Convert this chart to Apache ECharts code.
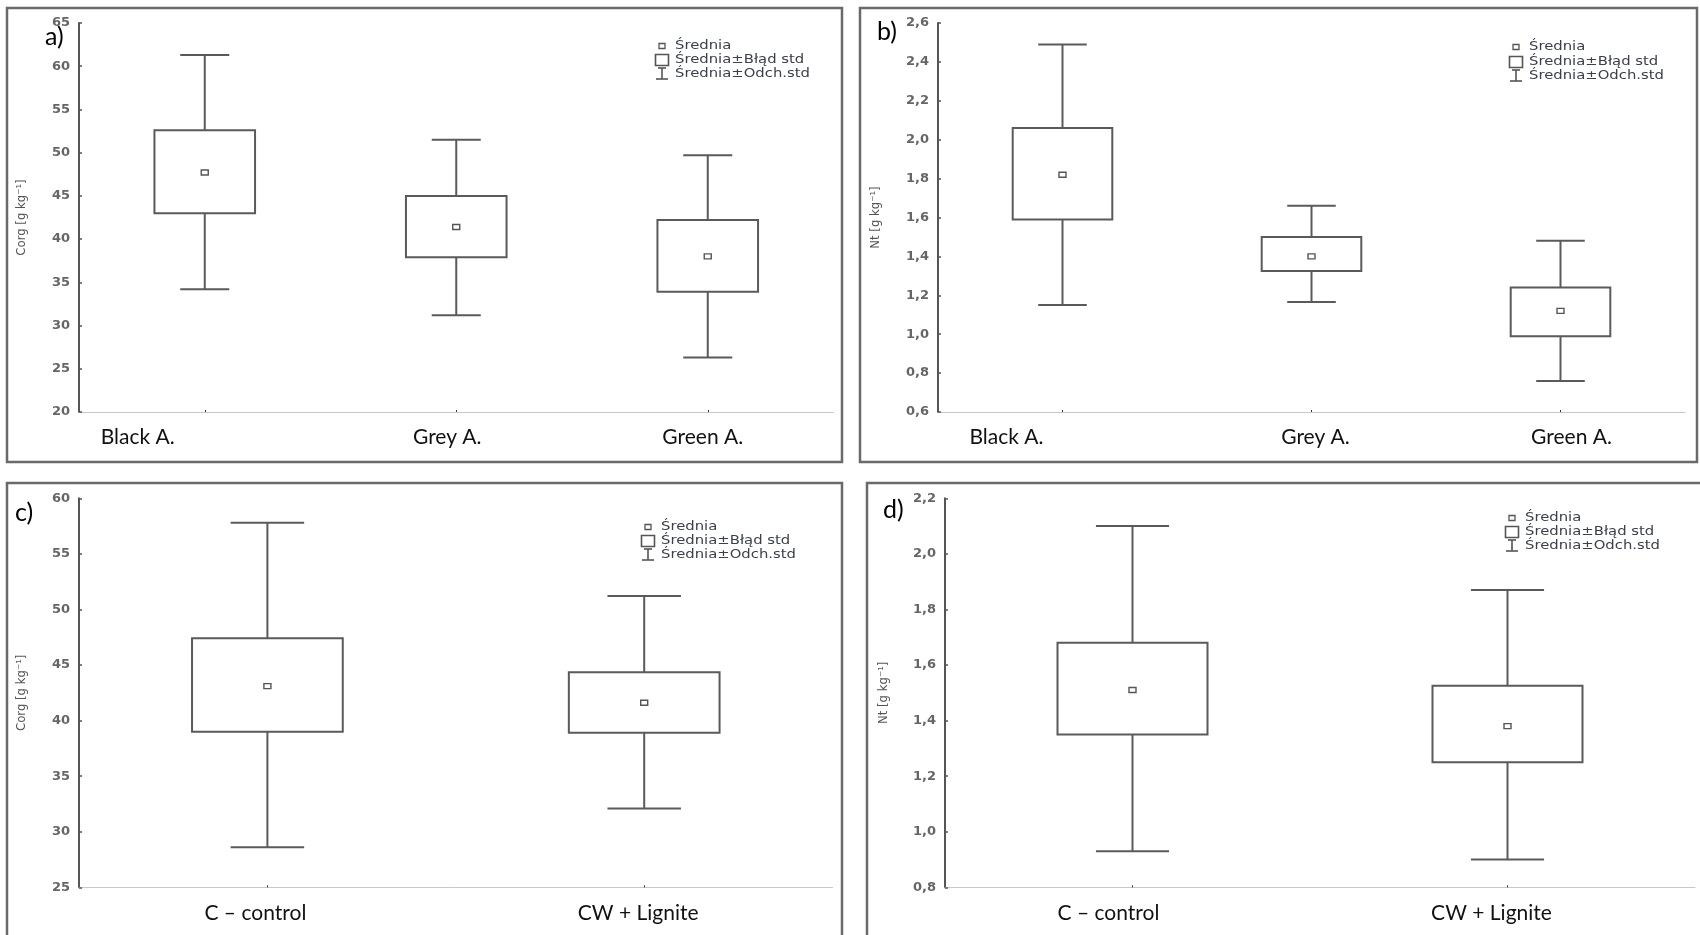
<!DOCTYPE html>
<html>
<head>
<meta charset="utf-8">
<script src="https://cdn.jsdelivr.net/npm/echarts@6/dist/echarts.min.js"></script>
<style>
html,body{margin:0;padding:0;background:#fff;}
#c{width:1700px;height:935px;}
</style>
</head>
<body>
<div id="c"></div>
<script>
// ---------- DATA ----------
const catsTop = ['Black A.', 'Grey A.', 'Green A.'];
const catsBottom = ['C – control', 'CW + Lignite'];

// a) Corg by horizon
const aMean   = [47.7, 41.4, 38.0];
const aSeLow  = [43.0, 37.9, 33.9];
const aSeHigh = [52.6, 45.0, 42.2];
const aSdLow  = [34.2, 31.2, 26.3];
const aSdHigh = [61.3, 51.5, 49.7];

// b) Nt by horizon
const bMean   = [1.82, 1.40, 1.12];
const bSeLow  = [1.59, 1.325, 0.99];
const bSeHigh = [2.06, 1.50, 1.24];
const bSdLow  = [1.15, 1.165, 0.76];
const bSdHigh = [2.49, 1.66, 1.48];

// c) Corg by treatment
const cMean   = [43.1, 41.6];
const cSeLow  = [39.0, 38.9];
const cSeHigh = [47.4, 44.35];
const cSdLow  = [28.6, 32.1];
const cSdHigh = [57.8, 51.2];

// d) Nt by treatment
const dMean   = [1.51, 1.38];
const dSeLow  = [1.35, 1.25];
const dSeHigh = [1.68, 1.525];
const dSdLow  = [0.93, 0.90];
const dSdHigh = [2.10, 1.87];

// axis scales [min, max, interval]
const aScale = [20, 65, 5];
const bScale = [0.6, 2.6, 0.2];
const cScale = [25, 60, 5];
const dScale = [0.8, 2.2, 0.2];

const legendTexts = ['Średnia', 'Średnia±Błąd std', 'Średnia±Odch.std'];
const panelLabels = ['a)', 'b)', 'c)', 'd)'];
const yNames = ['Corg [g kg⁻¹]', 'Nt [g kg⁻¹]', 'Corg [g kg⁻¹]', 'Nt [g kg⁻¹]'];

// ---------- LAYOUT ----------
const grids = [
  {left: 79, top: 23, width: 754.5, height: 389},
  {left: 938, top: 23, width: 747, height: 389},
  {left: 79, top: 498.3, width: 753.6, height: 389},
  {left: 945, top: 498.3, width: 750, height: 389}
];
// horizontal shift of category labels (px, negative = left)
const labelShift = [[-67, -9, -5], [-56, 4, 11], [-12, -6], [-24, -16]];
const nameGaps = [51, 56, 51, 55];

const lineCol = '#5a5a5a';

function renderBox(params, api) {
  const i = api.value(0);
  const sdLo = api.value(1), seLo = api.value(2), mean = api.value(3), seHi = api.value(4), sdHi = api.value(5);
  const band = api.size([1, 0])[0];
  const x = api.coord([i, mean])[0];
  const Y = v => api.coord([i, v])[1];
  const bw = band * 0.4, cw = band * 0.195;
  const ls = {stroke: lineCol, lineWidth: 2, fill: null};
  return {
    type: 'group',
    children: [
      {type: 'line', shape: {x1: x, y1: Y(sdHi), x2: x, y2: Y(seHi)}, style: ls},
      {type: 'line', shape: {x1: x, y1: Y(seLo), x2: x, y2: Y(sdLo)}, style: ls},
      {type: 'line', shape: {x1: x - cw / 2, y1: Y(sdHi), x2: x + cw / 2, y2: Y(sdHi)}, style: ls},
      {type: 'line', shape: {x1: x - cw / 2, y1: Y(sdLo), x2: x + cw / 2, y2: Y(sdLo)}, style: ls},
      {type: 'rect', shape: {x: x - bw / 2, y: Y(seHi), width: bw, height: Y(seLo) - Y(seHi)}, style: {stroke: lineCol, lineWidth: 2, fill: '#fff'}},
      {type: 'rect', shape: {x: x - 3.5, y: Y(mean) - 2.5, width: 7, height: 5}, style: {stroke: '#555', lineWidth: 1.4, fill: '#fff'}}
    ]
  };
}

function buildData(sdLo, seLo, mean, seHi, sdHi) {
  return mean.map((m, i) => [i, sdLo[i], seLo[i], m, seHi[i], sdHi[i]]);
}

const panels = [
  {cats: catsTop, data: buildData(aSdLow, aSeLow, aMean, aSeHigh, aSdHigh), scale: aScale, dec: 0},
  {cats: catsTop, data: buildData(bSdLow, bSeLow, bMean, bSeHigh, bSdHigh), scale: bScale, dec: 1},
  {cats: catsBottom, data: buildData(cSdLow, cSeLow, cMean, cSeHigh, cSdHigh), scale: cScale, dec: 0},
  {cats: catsBottom, data: buildData(dSdLow, dSeLow, dMean, dSeHigh, dSdHigh), scale: dScale, dec: 1}
];

const xAxes = [], yAxes = [], series = [];
panels.forEach((p, k) => {
  const rich = {};
  labelShift[k].forEach((s, i) => {
    rich['l' + i] = {
      fontFamily: 'Lato', fontSize: 21, color: '#111',
      padding: s < 0 ? [0, -2 * s, 0, 0] : [0, 0, 0, 2 * s]
    };
  });
  xAxes.push({
    type: 'category', gridIndex: k, data: p.cats,
    axisLine: {lineStyle: {color: '#c8c8c8', width: 1}},
    axisTick: {show: true, alignWithLabel: true, inside: true, length: 2, lineStyle: {color: '#333'}},
    axisLabel: {margin: 15, interval: 0, formatter: (v, i) => '{l' + i + '|' + v + '}', rich: rich},
    splitLine: {show: false}
  });
  yAxes.push({
    type: 'value', gridIndex: k, min: p.scale[0], max: p.scale[1], interval: p.scale[2],
    name: yNames[k], nameLocation: 'middle', nameGap: nameGaps[k],
    nameTextStyle: {fontFamily: 'DejaVu Sans Condensed', fontSize: 13, color: '#555'},
    axisLine: {show: true, lineStyle: {color: '#555', width: 2}},
    axisTick: {show: true, inside: true, length: 3, lineStyle: {color: '#555', width: 1.5}},
    axisLabel: {
      margin: 9, fontFamily: 'DejaVu Sans', fontSize: 13, fontWeight: 'bold', color: '#666',
      showMinLabel: true, showMaxLabel: true,
      formatter: v => v.toFixed(p.dec).replace('.', ',')
    },
    splitLine: {show: false}
  });
  series.push({
    type: 'custom', xAxisIndex: k, yAxisIndex: k, data: p.data,
    renderItem: renderBox, encode: {x: 0, y: [1, 2, 3, 4, 5]}, silent: true
  });
});

// ---------- decorations (frames, panel letters, legends) ----------
const graphic = [];
const frames = [[7, 8, 835, 454], [860, 8, 837, 454], [7, 483, 835, 470], [867, 483, 850, 470]];
frames.forEach(f => graphic.push({
  type: 'rect', shape: {x: f[0], y: f[1], width: f[2], height: f[3]},
  style: {stroke: '#6a6a6a', lineWidth: 2.5, fill: null}, z: 10
}));
const letterPos = [[45, 37], [877, 32], [15, 513], [883, 510]];
letterPos.forEach((pos, k) => graphic.push({
  type: 'text', x: pos[0], y: pos[1], z: 12,
  style: {text: panelLabels[k], fontFamily: 'Lato', fontSize: 25, fill: '#000', textVerticalAlign: 'middle'}
}));
// legend: [iconX, textX, y1, y2, y3]
const legPos = [[662, 675, 46, 60, 74], [1516, 1529, 47, 62, 76], [648, 661, 527, 541, 555], [1512, 1525, 518, 532, 546]];
legPos.forEach(L => {
  const ix = L[0], tx = L[1];
  graphic.push({type: 'rect', shape: {x: ix - 3, y: L[2] - 2.5, width: 6, height: 5}, style: {stroke: '#555', lineWidth: 1.3, fill: '#fff'}, z: 12});
  graphic.push({type: 'rect', shape: {x: ix - 6.5, y: L[3] - 5.5, width: 13, height: 11}, style: {stroke: '#555', lineWidth: 1.6, fill: '#fff'}, z: 12});
  graphic.push({type: 'line', shape: {x1: ix, y1: L[4] - 6, x2: ix, y2: L[4] + 5}, style: {stroke: '#555', lineWidth: 1.6}, z: 12});
  graphic.push({type: 'line', shape: {x1: ix - 4, y1: L[4] - 6, x2: ix + 4, y2: L[4] - 6}, style: {stroke: '#555', lineWidth: 1.6}, z: 12});
  graphic.push({type: 'line', shape: {x1: ix - 6, y1: L[4] + 5, x2: ix + 6, y2: L[4] + 5}, style: {stroke: '#555', lineWidth: 1.6}, z: 12});
  [L[2], L[3], L[4]].forEach((y, j) => graphic.push({
    type: 'text', x: tx, y: y, scaleX: 1.14, z: 12,
    style: {text: legendTexts[j], fontFamily: 'DejaVu Sans', fontSize: 13, fill: '#3a3f4a', textVerticalAlign: 'middle'}
  }));
});

const chart = echarts.init(document.getElementById('c'), null, {renderer: 'canvas'});
chart.setOption({
  animation: false,
  backgroundColor: '#fff',
  textStyle: {fontFamily: 'DejaVu Sans'},
  grid: grids,
  xAxis: xAxes,
  yAxis: yAxes,
  series: series,
  graphic: graphic
});
</script>
</body>
</html>
